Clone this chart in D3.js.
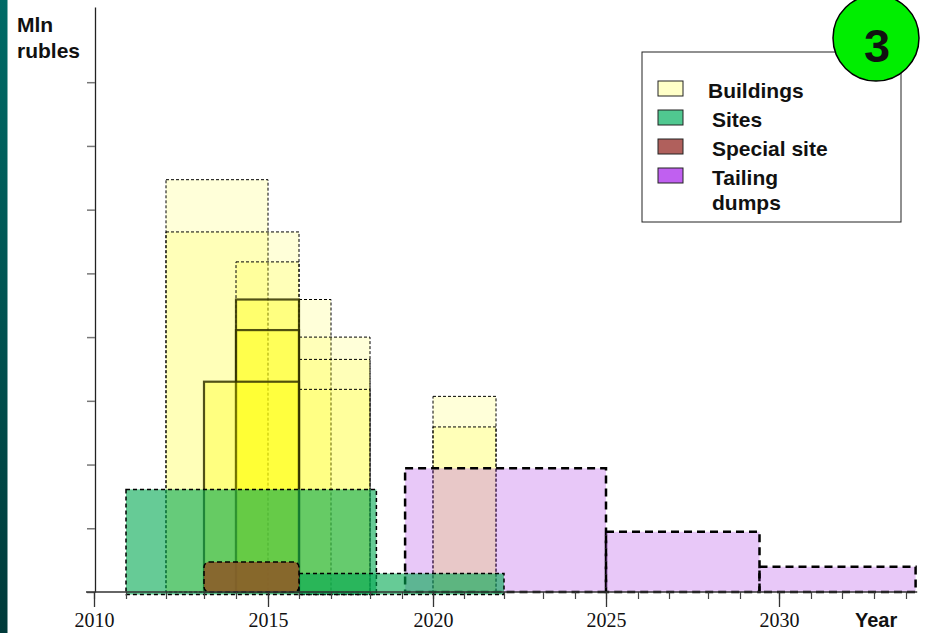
<!DOCTYPE html>
<html>
<head>
<meta charset="utf-8">
<script src="https://cdn.jsdelivr.net/npm/d3@7"></script>
<style>
  body { margin: 0; background: #fff; }
  svg { display: block; font-family: "Liberation Sans", Arial, sans-serif; }
</style>
</head>
<body>
<div id="chart"></div>
<script>
// ---- data (years on x, million rubles in axis units on y) ----
const years = d3.range(2010, 2035);
const yearLabels = [2010, 2015, 2020, 2025, 2030];
const valueTicks = d3.range(0, 9);

// [from, to, value, status]
const buildings = [
  [2012, 2015, 6.47, 'plan'],
  [2012, 2016, 5.65, 'plan'],
  [2014, 2016, 5.18, 'plan'],
  [2016, 2017, 4.59, 'plan'],
  [2016, 2018, 4.0, 'plan'],
  [2016, 2018, 3.65, 'plan'],
  [2016, 2018, 3.18, 'plan'],
  [2020, 2021.8, 3.07, 'plan'],
  [2020, 2021.8, 2.59, 'plan'],
  [2014, 2016, 4.59, 'firm'],
  [2014, 2016, 4.11, 'firm'],
  [2013, 2016, 3.30, 'firm']
];
const sites = [
  [2011, 2018.2, 1.61],
  [2016, 2022, 0.29]
];
const specialSite = [
  [2013, 2016, 0.47]
];
const tailingDumps = [
  [2019.1, 2025, 1.94],
  [2025, 2029.5, 0.945],
  [2029.5, 2034.3, 0.397]
];
const legendLabels = [['Buildings'], ['Sites'], ['Special site'], ['Tailing', 'dumps']];

// ---- layout ----
const width = 930, height = 633;
// the original year axis is hand drawn, so every year has its own position
const yearPx = [94, 126, 166, 204, 236, 268, 299, 331, 370, 402, 433, 464, 504,
  543, 575, 606, 638, 669, 708, 740, 779, 811, 842, 874, 906];

const x = d3.scaleLinear().domain(years).range(yearPx);
const y = d3.scaleLinear().domain([0, 9.18]).range([592, 7]);

const svg = d3.select('#chart').append('svg')
  .attr('width', width)
  .attr('height', height);

// teal strip on the left
const grad = svg.append('defs').append('linearGradient')
  .attr('id', 'strip').attr('x1', 0).attr('x2', 0).attr('y1', 0).attr('y2', 1);
grad.append('stop').attr('offset', '0%').attr('stop-color', '#006b67');
grad.append('stop').attr('offset', '100%').attr('stop-color', '#003a3a');
svg.append('rect').attr('x', 0).attr('y', 0).attr('width', 7.5).attr('height', height)
  .attr('fill', 'url(#strip)');

const plot = svg.append('g');

function drawBoxes(data, cls, bottomShift) {
  return plot.selectAll('.' + cls)
    .data(data)
    .enter()
    .append('rect')
    .attr('class', cls)
    .attr('x', d => x(d[0]))
    .attr('y', d => y(d[2]))
    .attr('width', d => x(d[1]) - x(d[0]))
    .attr('height', d => y(0) - y(d[2]) + (bottomShift || 0));
}

// buildings
drawBoxes(buildings.filter(d => d[3] === 'plan'), 'bld-plan')
  .attr('fill', '#ffff00')
  .attr('fill-opacity', 0.15)
  .attr('stroke', '#000')
  .attr('stroke-width', 1)
  .attr('stroke-dasharray', '3,2');

drawBoxes(buildings.filter(d => d[3] === 'firm'), 'bld-firm')
  .attr('fill', '#ffff00')
  .attr('fill-opacity', 0.3)
  .attr('stroke', '#333300')
  .attr('stroke-opacity', 0.85)
  .attr('stroke-width', 2.2);

// tailing dumps
drawBoxes(tailingDumps, 'tail')
  .attr('fill', 'rgb(184,84,234)')
  .attr('fill-opacity', 0.32)
  .attr('stroke', '#000')
  .attr('stroke-width', 2.5)
  .attr('stroke-dasharray', '8,5');

// sites
drawBoxes(sites, 'site', 2.5)
  .attr('fill', 'rgb(0,168,80)')
  .attr('fill-opacity', 0.6)
  .attr('stroke', '#000')
  .attr('stroke-width', 1.5)
  .attr('stroke-dasharray', '4,3');

// special site
drawBoxes(specialSite, 'special')
  .attr('rx', 5)
  .attr('fill', '#8c5a28')
  .attr('fill-opacity', 0.88)
  .attr('stroke', '#000')
  .attr('stroke-width', 1.5)
  .attr('stroke-dasharray', '5,3');

// ---- axes ----
const yAxis = svg.append('g')
  .attr('transform', `translate(${x(2010) + 1},0)`)
  .call(d3.axisLeft(y).tickValues(valueTicks).tickFormat('').tickSize(8).tickSizeOuter(0));
yAxis.select('.domain').attr('stroke', '#222').attr('stroke-width', 1.3);
yAxis.selectAll('.tick line').attr('stroke', '#777').attr('stroke-width', 1.5);

const xMinor = svg.append('g')
  .attr('transform', `translate(0,${y(0)})`)
  .call(d3.axisBottom(x).tickValues(years).tickFormat('').tickSize(7));
xMinor.select('.domain').remove();
xMinor.selectAll('.tick line').attr('stroke', '#444').attr('stroke-width', 1.2);

const xMajor = svg.append('g')
  .attr('transform', `translate(0,${y(0)})`)
  .call(d3.axisBottom(x).tickValues(yearLabels).tickFormat(d3.format('d')).tickSize(15).tickPadding(6));
xMajor.select('.domain').remove();
xMajor.selectAll('.tick line').attr('stroke', '#333').attr('stroke-width', 1.3);
xMajor.selectAll('.tick text')
  .attr('fill', '#111')
  .style('font-family', '"Liberation Serif", "Times New Roman", serif')
  .style('font-size', '20px');

svg.append('line')
  .attr('x1', x(2010) - 8).attr('x2', x(2034.35))
  .attr('y1', y(0)).attr('y2', y(0))
  .attr('stroke', '#333').attr('stroke-width', 1.3);

// axis titles
const yTitle = svg.append('text')
  .attr('x', 17)
  .attr('y', 32)
  .style('font-size', '21px')
  .style('font-weight', 'bold')
  .attr('fill', '#111');
yTitle.append('tspan').attr('x', 17).text('Mln');
yTitle.append('tspan').attr('x', 17).attr('dy', 26).text('rubles');

svg.append('text')
  .attr('x', 855)
  .attr('y', 627)
  .style('font-size', '20px')
  .style('font-weight', 'bold')
  .attr('fill', '#111')
  .text('Year');

// ---- legend ----
const legendColors = ['#ffffc8', '#50c890', '#b0605c', '#c060f0'];
const legend = svg.append('g');
legend.append('rect')
  .attr('x', 642).attr('y', 52)
  .attr('width', 259).attr('height', 170)
  .attr('fill', '#fff')
  .attr('stroke', '#222')
  .attr('stroke-width', 1);

const items = legend.selectAll('.item')
  .data(legendLabels)
  .enter()
  .append('g')
  .attr('class', 'item')
  .attr('transform', (d, i) => `translate(658,${81 + i * 29})`);

items.append('rect')
  .attr('width', 25).attr('height', 15)
  .attr('fill', (d, i) => legendColors[i])
  .attr('stroke', '#222')
  .attr('stroke-width', 1);

items.each(function(lines, i) {
  const labelX = i === 0 ? 50 : 54;
  const t = d3.select(this).append('text')
    .attr('y', 17)
    .style('font-size', '21px')
    .style('font-weight', 'bold')
    .attr('fill', '#111');
  lines.forEach((line, j) => {
    t.append('tspan')
      .attr('x', labelX)
      .attr('dy', j === 0 ? 0 : 25)
      .text(line);
  });
});

// badge
svg.append('circle')
  .attr('cx', 876).attr('cy', 38).attr('r', 43)
  .attr('fill', '#00ee00')
  .attr('stroke', '#000')
  .attr('stroke-width', 1.5);
svg.append('text')
  .attr('x', 877).attr('y', 62)
  .attr('text-anchor', 'middle')
  .style('font-size', '47px')
  .style('font-weight', 'bold')
  .attr('fill', '#111')
  .text('3');
</script>
</body>
</html>
